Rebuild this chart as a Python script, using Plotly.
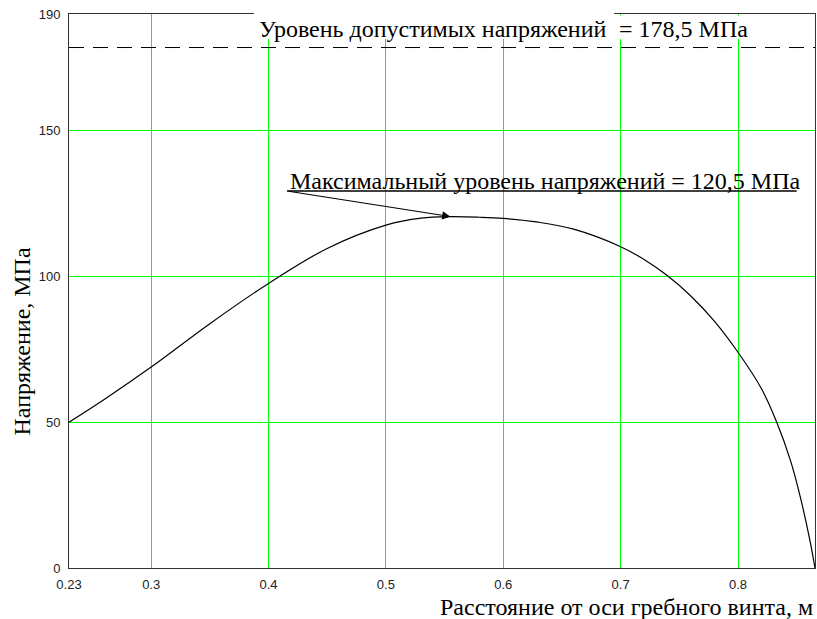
import plotly.graph_objects as go

# Stress distribution along the propeller blade radius
radius_m = [0.23, 0.26, 0.30, 0.35, 0.40, 0.45, 0.50, 0.53, 0.555,
            0.58, 0.60, 0.63, 0.66, 0.70, 0.72, 0.74, 0.76, 0.78, 0.80,
            0.82, 0.833, 0.845, 0.853, 0.861, 0.8656]
stress_mpa = [50.0, 57.8, 68.9, 83.8, 97.6, 109.6, 117.6, 120.0, 120.5,
              120.3, 119.9, 118.6, 116.2, 110.2, 105.8, 100.2, 93.2, 84.6, 74.0,
              61.5, 50.0, 36.5, 24.5, 10.0, 0.0]

ALLOWED_STRESS = 178.5
MAX_STRESS = 120.5

x_ticks = [0.23, 0.3, 0.4, 0.5, 0.6, 0.7, 0.8]
x_tick_text = ["0.23", "0.3", "0.4", "0.5", "0.6", "0.7", "0.8"]
y_ticks = [0, 50, 100, 150, 190]

X_MIN, X_MAX = 0.23, 0.8656
Y_MIN, Y_MAX = 0, 190

GREEN = "#00ff00"
SERIF = "Times New Roman, Liberation Serif, DejaVu Serif, serif"
SANS = "Liberation Sans, Arial, sans-serif"
TEXT_SIZE = 24

fig = go.Figure()

fig.add_trace(go.Scatter(
    x=radius_m, y=stress_mpa, mode="lines",
    line=dict(color="black", width=1.2, shape="spline", smoothing=1.0),
    hoverinfo="skip", showlegend=False,
))

# allowable stress level
fig.add_trace(go.Scatter(
    x=[X_MIN, X_MAX], y=[ALLOWED_STRESS, ALLOWED_STRESS], mode="lines",
    line=dict(color="black", width=1, dash="15px,9px"),
    hoverinfo="skip", showlegend=False,
))

peak_i = max(range(len(stress_mpa)), key=lambda i: stress_mpa[i])
peak_x, peak_y = radius_m[peak_i], stress_mpa[peak_i]

label_x0, label_x1, label_y = 0.4157, 0.850, 129.3

shapes = [
    # white boxes behind the allowable-level caption
    dict(type="rect", xref="paper", yref="paper", layer="above",
         x0=0.2480, x1=0.7306, y0=0.9549, y1=1.03,
         fillcolor="white", line=dict(width=0)),
    dict(type="rect", xref="paper", yref="paper", layer="above",
         x0=0.7306, x1=0.9263, y0=0.9549, y1=0.9973,
         fillcolor="white", line=dict(width=0)),
    # underline of the maximum-level caption
    dict(type="line", xref="x", yref="y", layer="above",
         x0=label_x0, x1=label_x1, y0=label_y, y1=label_y,
         line=dict(color="black", width=1.3)),
]

serif_font = dict(family=SERIF, size=TEXT_SIZE, color="black")

annotations = [
    dict(text="Уровень допустимых напряжений", xref="paper", yref="paper",
         x=0.2520, y=0.9738, xanchor="left", yanchor="middle", showarrow=False,
         font=serif_font),
    dict(text=f"= {ALLOWED_STRESS:.1f} МПа".replace(".", ","), xref="paper", yref="paper",
         x=0.7346, y=0.9738, xanchor="left", yanchor="middle", showarrow=False,
         font=serif_font),
    dict(text=f"Максимальный уровень напряжений = {MAX_STRESS:.1f} МПа".replace(".", ","),
         xref="x", yref="y", x=label_x0 + 0.001, y=132.6,
         xanchor="left", yanchor="middle", showarrow=False,
         font=serif_font),
    dict(text="", xref="x", yref="y", x=peak_x, y=peak_y,
         axref="x", ayref="y", ax=label_x0, ay=label_y,
         showarrow=True, arrowhead=2, arrowsize=1.5, arrowwidth=1.1,
         arrowcolor="black", standoff=0),
    dict(text="Расстояние от оси гребного винта, м", xref="paper", yref="paper",
         x=1.0, y=-0.0704, xanchor="right", yanchor="middle", showarrow=False,
         font=serif_font),
    dict(text="Напряжение, МПа", xref="paper", yref="paper",
         x=-0.063, y=0.4088, xanchor="center", yanchor="middle", textangle=-90,
         showarrow=False, font=serif_font),
]

fig.update_layout(
    width=817, height=619,
    margin=dict(l=69, r=2, t=14, b=51),
    paper_bgcolor="white", plot_bgcolor="white",
    shapes=shapes, annotations=annotations,
    xaxis=dict(range=[X_MIN, X_MAX], tickvals=x_ticks, ticktext=x_tick_text,
               showgrid=True, gridcolor=GREEN, gridwidth=1, zeroline=False,
               showline=True, linecolor="#333333", linewidth=1, mirror=True,
               ticks="", ticklabelstandoff=4,
               tickfont=dict(family=SANS, size=13, color="#222222")),
    yaxis=dict(range=[Y_MIN, Y_MAX], tickvals=y_ticks,
               showgrid=True, gridcolor=GREEN, gridwidth=1, zeroline=False,
               showline=True, linecolor="#333333", linewidth=1, mirror=True,
               ticks="", ticklabelstandoff=5,
               tickfont=dict(family=SANS, size=13, color="#222222")),
)

fig.write_html("out.html")
